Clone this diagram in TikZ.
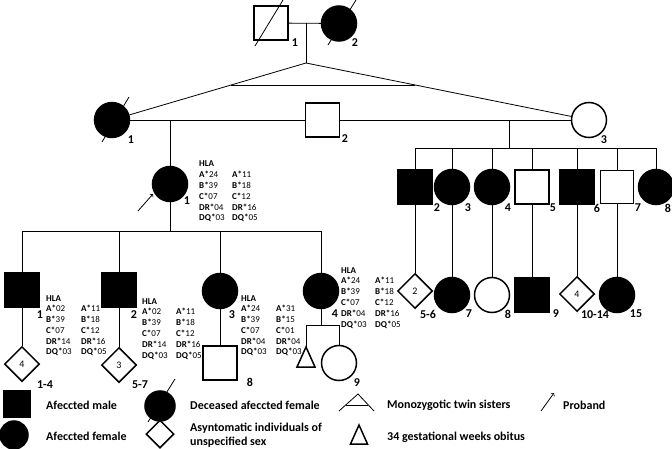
\documentclass[tikz,border=0pt]{standalone}
\usepackage{fontspec}
\setmainfont{Carlito}
\usetikzlibrary{shapes.geometric,calc}
\newcommand{\hc}[3][34pt]{\makebox[#1][l]{\textbf{#2*}#3}}
\newcommand{\hd}[2]{\textbf{#1*}#2}
\begin{document}
\begin{tikzpicture}[x=1pt,y=-1pt,
  conn/.style={line width=0.8pt},
  sym/.style={draw, line width=1.5pt, inner sep=0pt},
  msq/.style={sym, rectangle, minimum size=34pt},
  fem/.style={sym, circle, minimum size=35pt},
  dia/.style={sym, diamond, minimum size=35pt, font=\fontsize{10}{12}\selectfont},
  aff/.style={fill=black},
  lab/.style={font=\bfseries\fontsize{12}{14}\selectfont, inner sep=0pt},
  hla/.style={anchor=base west, inner sep=0pt, font=\fontsize{9}{10.8}\selectfont},
  leg/.style={anchor=west, inner sep=0pt, font=\bfseries\fontsize{12}{14}\selectfont, align=left},
  slash/.style={line width=0.8pt},
  tri/.style={line width=1.5pt, line join=miter},
]
\useasboundingbox (0,0) rectangle (672,449);

% ---------- Generation I
\node[msq] (g1a) at (271,23) {};
\node[fem,aff] (g1b) at (339,23.5) {};
\draw[slash] ($(g1a)+(-16,23)$) -- ($(g1a)+(12,-23)$);
\draw[slash] ($(g1b)+(-11,21.5)$) -- ($(g1b)+(17,-23.5)$);
\node[lab] (lg1a) at (295,43) {1};
\node[lab] (lg1b) at (355,43) {2};
\draw[conn] (g1a) -- (g1b);
\coordinate (m0) at (306,23);
\coordinate (ap) at (306,63);
\draw[conn] (m0) -- (ap);

% ---------- Generation II
\node[fem,aff] (g2a) at (112,120) {};
\node[msq] (g2b) at (322.5,120) {};
\node[fem] (g2c) at (589,120) {};
\draw[slash] ($(g2a)+(-10,22)$) -- ($(g2a)+(17,-23)$);
\node[lab] (lg2a) at (131,140) {1};
\node[lab] (lg2b) at (345,139) {2};
\node[lab] (lg2c) at (604,140) {3};
\draw[conn] (ap) -- (g2a);
\draw[conn] (ap) -- (g2c);
\draw[conn] ($(ap)!0.386!(g2a.center)$) -- ($(ap)!0.386!(g2c.center)$);
\draw[conn] (g2a) -- (g2b);
\draw[conn] (g2b) -- (g2c);

% ---------- Proband
\coordinate (m1) at (170,120);
\node[fem,aff] (p1) at (170,184) {};
\node[lab] (lp1) at (187,201) {1};
\draw[conn] (m1) -- (p1);
\coordinate (pa) at ($(p1)+(-32,27)$);
\coordinate (pb) at ($(p1)+(-17,10)$);
\draw[conn,->] (pa) -- (pb);
\node[hla] (h0) at (199,167) {\begin{tabular}[t]{@{}l@{}}\textbf{HLA}\\
\hc[33pt]{A}{24}\hd{A}{11}\\ \hc[33pt]{B}{39}\hd{B}{18}\\ \hc[33pt]{C}{07}\hd{C}{12}\\
\hc[33pt]{DR}{04}\hd{DR}{16}\\ \hc[33pt]{DQ}{03}\hd{DQ}{05}\end{tabular}};

% ---------- Proband's children
\coordinate (s1) at (170,231);
\draw[conn] (p1) -- (s1);
\node[msq,aff] (c1) at (22,290) {};
\node[msq,aff] (c2) at (119,290) {};
\node[fem,aff] (c3) at (220,291) {};
\node[fem,aff] (c4) at (321,291) {};
\draw[conn] (c1.north) -- (c1.north |- s1) -- (c4.north |- s1) -- (c4.north);
\draw[conn] (c2.north) -- (c2.north |- s1);
\draw[conn] (c3.north) -- (c3.north |- s1);
\node[lab] (lc1) at (40,315) {1};
\node[lab] (lc2) at (134,315) {2};
\node[lab] (lc3) at (232,315) {3};
\node[lab] (lc4) at (335,314) {4};

\node[hla] (h1) at (46,301) {\begin{tabular}[t]{@{}l@{}}\textbf{HLA}\\
\hc[35pt]{A}{02}\hd{A}{11}\\ \hc[35pt]{B}{39}\hd{B}{18}\\ \hc[35pt]{C}{07}\hd{C}{12}\\
\hc[35pt]{DR}{14}\hd{DR}{16}\\ \hc[35pt]{DQ}{03}\hd{DQ}{05}\end{tabular}};
\node[hla] (h2) at (142,304) {\begin{tabular}[t]{@{}l@{}}\textbf{HLA}\\
\hc{A}{02}\hd{A}{11}\\ \hc{B}{39}\hd{B}{18}\\ \hc{C}{07}\hd{C}{12}\\
\hc{DR}{14}\hd{DR}{16}\\ \hc{DQ}{03}\hd{DQ}{05}\end{tabular}};
\node[hla] (h3) at (241,301) {\begin{tabular}[t]{@{}l@{}}\textbf{HLA}\\
\hc[35pt]{A}{24}\hd{A}{31}\\ \hc[35pt]{B}{39}\hd{B}{15}\\ \hc[35pt]{C}{07}\hd{C}{01}\\
\hc[35pt]{DR}{04}\hd{DR}{04}\\ \hc[35pt]{DQ}{03}\hd{DQ}{03}\end{tabular}};
\node[hla] (h4) at (341,273) {\begin{tabular}[t]{@{}l@{}}\textbf{HLA}\\
\hc{A}{24}\hd{A}{11}\\ \hc{B}{39}\hd{B}{18}\\ \hc{C}{07}\hd{C}{12}\\
\hc{DR}{04}\hd{DR}{16}\\ \hc{DQ}{03}\hd{DQ}{05}\end{tabular}};

% ---------- Grandchildren (left)
\node[dia] (d1) at (22,364) {4};
\node[dia] (d2) at (119,365) {3};
\node[msq] (e8) at (220,363) {};
\draw[conn] (c1) -- (d1);
\draw[conn] (c2) -- (d2);
\draw[conn] (c3) -- (e8);
\coordinate (s4) at (321,325);
\draw[conn] (c4) -- (s4);
\coordinate (t9) at (306,347);
\node[fem] (e9) at (339,363) {};
\draw[conn] (t9) -- (t9 |- s4) -- (e9.north |- s4) -- (e9.north);
\draw[tri] (t9) -- ++(9,20) -- ++(-18,0) -- cycle;
\node[lab] (ld1) at (45,385) {1-4};
\node[lab] (ld2) at (140,385) {5-7};
\node[lab] (le8) at (250,382) {8};
\node[lab] (le9) at (357,383) {9};

% ---------- Right family
\coordinate (m2) at (509,120);
\coordinate (s2) at (509,148);
\draw[conn] (m2) -- (s2);
\node[msq,aff] (r2) at (415,187) {};
\node[fem,aff] (r3) at (452,187) {};
\node[fem,aff] (r4) at (492,187) {};
\node[msq] (r5) at (532,187) {};
\node[msq,aff] (r6) at (577,187) {};
\node[msq,minimum size=33pt] (r7) at (617,187) {};
\node[fem,aff] (r8) at (656,187) {};
\draw[conn] (r2.north) -- (r2.north |- s2) -- (r8.north |- s2) -- (r8.north);
\foreach \c in {r3,r4,r5,r6,r7} \draw[conn] (\c.north) -- (\c.north |- s2);
\node[lab] (lr2) at (437,208) {2};
\node[lab] (lr3) at (468,208) {3};
\node[lab] (lr4) at (508,208) {4};
\node[lab] (lr5) at (553,208) {5};
\node[lab] (lr6) at (597,208) {6};
\node[lab] (lr7) at (638,208) {7};
\node[lab] (lr8) at (668,208) {8};

\node[dia] (q1) at (415,291) {2};
\node[fem,aff] (q2) at (452,295) {};
\node[fem] (q3) at (492,295) {};
\node[msq,aff] (q4) at (532,295) {};
\node[dia] (q5) at (577,294) {4};
\node[fem,aff] (q6) at (617,295) {};
\draw[conn] (r2) -- (q1);
\draw[conn] (r3) -- (q2);
\draw[conn] (r4) -- (q3);
\draw[conn] (r5) -- (q4);
\draw[conn] (r6) -- (q5);
\draw[conn] (r7) -- (q6);
\node[lab] (lq1) at (428,314) {5-6};
\node[lab] (lq2) at (469,314) {7};
\node[lab] (lq3) at (508,314) {8};
\node[lab] (lq4) at (556,314) {9};
\node[lab] (lq5) at (595,315) {10-14};
\node[lab] (lq6) at (636,314) {15};

% ---------- Legend
\node[msq,aff,minimum size=26pt] (L1) at (17,404) {};
\node[leg] (T1) at (46,405) {Afeccted male};
\node[fem,aff,minimum size=28pt] (L2) at (14,435) {};
\node[leg] (T2) at (46,436) {Afeccted female};
\node[fem,aff,minimum size=30pt] (L3) at (160,406) {};
\draw[slash] ($(L3)+(-12,16)$) -- ($(L3)+(15,-27)$);
\node[leg] (T3) at (190,405) {Deceased afeccted female};
\node[dia,minimum size=28pt] (L4) at (160,434) {};
\node[leg] (T4) at (190,435) {Asyntomatic individuals of\\unspecified sex};
\coordinate (L5) at (358,394);
\draw[conn] ($(L5)+(-19,17)$) -- (L5) -- ($(L5)+(16,17)$);
\draw[conn] ($(L5)+(-12.3,11)$) -- ($(L5)+(10.4,11)$);
\node[leg] (T5) at (387,405) {Monozygotic twin sisters};
\coordinate (L6) at (359,425);
\draw[tri] (L6) -- ++(8.5,19) -- ++(-17,0) -- cycle;
\node[leg] (T6) at (387,437) {34 gestational weeks obitus};
\coordinate (L7a) at (541,411);
\coordinate (L7b) at (554,393);
\draw[conn,->] (L7a) -- (L7b);
\node[leg] (T7) at (563,405) {Proband};
\end{tikzpicture}
\end{document}
